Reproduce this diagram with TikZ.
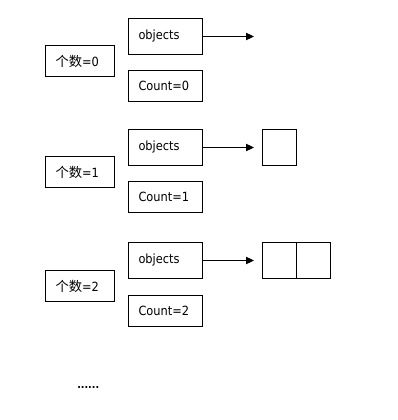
\documentclass[tikz,border=0pt]{standalone}
\usepackage{fontspec}
\setmainfont{DejaVu Sans}[FakeStretch=0.9]
\newfontfamily\cjk{Noto Sans CJK SC}
\usetikzlibrary{arrows.meta}
\begin{document}
\begin{tikzpicture}[x=0.75pt,y=-0.75pt,
  box/.style={draw, line width=0.75pt, inner ysep=0pt, inner xsep=7.5pt, align=left, anchor=north west, font=\fontsize{9.5}{10}\selectfont},
  numbox/.style={box, text width=36.75pt, minimum height=23.25pt},
  objbox/.style={box, text width=40.5pt, minimum height=27pt},
  countbox/.style={box, text width=40.5pt, minimum height=23.25pt},
  cell/.style={draw, line width=0.75pt, inner sep=0pt, anchor=north west, minimum width=25.5pt, minimum height=27pt},
  ptr/.style={line width=0.75pt, -{Triangle[length=6pt,width=5.5pt]}}]
\useasboundingbox (0,0) rectangle (397,420);
% row 0
\node[numbox] (n0) at (45,45) {{\cjk\fontsize{10}{10}\selectfont 个数}=0};
\node[objbox] (o0) at (128,18) {objects};
\node[countbox] (c0) at (128,70) {Count=0};
\coordinate (e0) at (254,36);
\draw[ptr] (o0.east) -- (o0.east -| e0);
% row 1
\node[numbox] (n1) at (45,156) {{\cjk\fontsize{10}{10}\selectfont 个数}=1};
\node[objbox] (o1) at (128,129) {objects};
\node[countbox] (c1) at (128,181) {Count=1};
\node[cell] (s10) at (262,129) {};
\draw[ptr, shorten >=6pt] (o1.east) -- (s10.west);
% row 2
\node[numbox] (n2) at (45,270) {{\cjk\fontsize{10}{10}\selectfont 个数}=2};
\node[objbox] (o2) at (128,242) {objects};
\node[countbox] (c2) at (128,295) {Count=2};
\node[cell] (s20) at (262,242) {};
\node[cell] (s21) at (296,242) {};
\draw[ptr, shorten >=6pt] (o2.east) -- (s20.west);
% dots
\node[font=\bfseries\fontsize{8}{9}\selectfont, inner sep=0pt, anchor=base west] (dots) at (77,388) {......};
\end{tikzpicture}
\end{document}
